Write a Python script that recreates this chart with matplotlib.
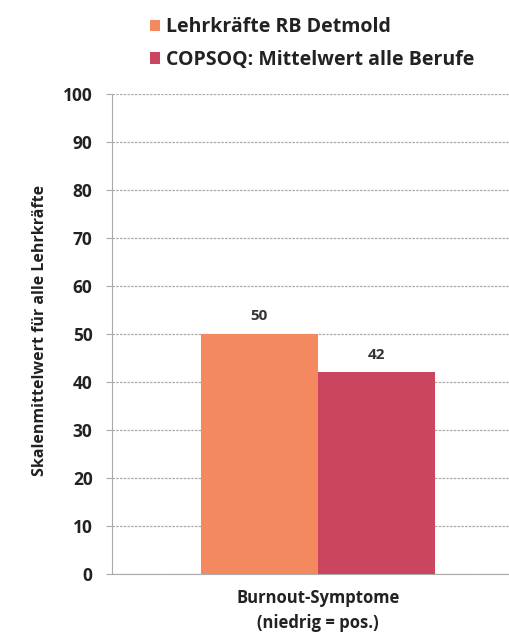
import matplotlib
matplotlib.use("Agg")
import matplotlib.pyplot as plt

categories = ["Burnout-Symptome\n(niedrig = pos.)"]
series_names = ["Lehrkräfte RB Detmold", "COPSOQ: Mittelwert alle Berufe"]
values_lehrkraefte = [50]
values_copsoq = [42]
yticks = [0, 10, 20, 30, 40, 50, 60, 70, 80, 90, 100]
colors = ["#F4895F", "#C9465E"]

plt.rcParams['font.family'] = ['Open Sans', 'DejaVu Sans']
fig = plt.figure(figsize=(5.10, 6.41), dpi=100)
ax = fig.add_axes([112/510, 1-574/641, 1-112/510, (574-94)/641])

w = 0.57
x = [0]
b1 = ax.bar([xi - w/2 for xi in x], values_lehrkraefte, width=w, color=colors[0], zorder=3, label=series_names[0])
b2 = ax.bar([xi + w/2 for xi in x], values_copsoq, width=w, color=colors[1], zorder=3, label=series_names[1])
for bars, vals in ((b1, values_lehrkraefte), (b2, values_copsoq)):
    for r, v in zip(bars, vals):
        ax.text(r.get_x() + r.get_width()/2, v + 2.2, str(v), ha='center', va='bottom',
                fontsize=11, fontweight='bold', color='#333333')

ax.set_xlim(-1, 0.932)
ax.set_ylim(0, 100)
ax.set_yticks(yticks)
ax.set_yticklabels([str(t) for t in yticks], fontsize=12.5, fontweight='bold', color='#222222')
ax.yaxis.grid(True, color='#aaaaaa', linewidth=0.9, linestyle=(0, (2, 1)), zorder=0)
ax.tick_params(axis='y', length=4, color='#aaaaaa', pad=10)
ax.set_xticks(x)
ax.set_xticklabels(categories, fontsize=12, fontweight='bold', color='#222222', linespacing=1.45)
ax.tick_params(axis='x', length=0, pad=11)
for s in ['top', 'right']:
    ax.spines[s].set_visible(False)
ax.spines['left'].set_color('#aaaaaa')
ax.spines['bottom'].set_color('#aaaaaa')

fig.text(40/510, 1-330/641, "Skalenmittelwert für alle Lehrkräfte", rotation=90,
         ha='center', va='center', fontsize=11.5, fontweight='bold', color='#222222')

fig.legend(handles=[b1, b2], labels=series_names, loc='upper left',
           bbox_to_anchor=(132/510, 1-0/641), frameon=False, ncol=1,
           prop={'weight': 'bold', 'size': 14}, handlelength=0.55, handleheight=0.55,
           handletextpad=0.3, labelspacing=0.65, labelcolor='#222222')

fig.savefig("out.png", dpi=100, facecolor='white')
